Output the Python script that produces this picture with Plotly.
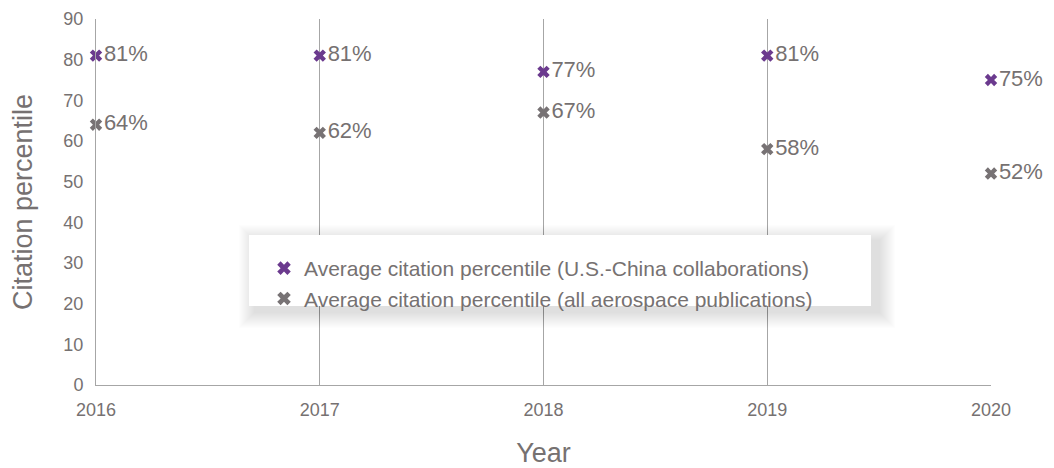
import plotly.graph_objects as go

years = [2016, 2017, 2018, 2019, 2020]
us_china = [81, 81, 77, 81, 75]
all_aero = [64, 62, 67, 58, 52]
series_names = [
    "Average citation percentile (U.S.-China collaborations)",
    "Average citation percentile (all aerospace publications)",
]

PURPLE = "#6b3a8e"
GRAY_MARK = "#777274"
TEXT = "#767171"
LINE = "#a6a6a6"
FONT = "Liberation Sans, Arial, sans-serif"

W, H = 1054, 468
L, R, T, B = 96, 63, 19, 83
pw, ph = W - L - R, H - T - B


def px_x(x):
    return (x - L) / pw


def px_y(y):
    return (H - B - y) / ph


fig = go.Figure()
for vals, name, color in [(us_china, series_names[0], PURPLE),
                          (all_aero, series_names[1], GRAY_MARK)]:
    fig.add_trace(go.Scatter(
        x=years, y=vals, name=name, mode="markers+text",
        marker=dict(symbol="x", size=11, color=color, line=dict(width=0)),
        text=[f"{v}%" for v in vals], textposition="middle right",
        textfont=dict(size=22, color=TEXT, family=FONT),
        cliponaxis=False,
    ))

# legend panel with soft drop shadow
bx0, bx1, by0, by1 = 249, 871, 235, 306
shapes = []
for i in range(16, 0, -1):
    shapes.append(dict(
        type="rect", xref="paper", yref="paper", layer="above",
        x0=px_x(bx0 - i + 6), x1=px_x(bx1 + i + 8),
        y0=px_y(by1 + i + 6), y1=px_y(by0 - i + 6),
        line=dict(width=0), fillcolor="rgba(0,0,0,0.009)",
    ))
shapes.append(dict(
    type="rect", xref="paper", yref="paper", layer="above",
    x0=px_x(bx0), x1=px_x(bx1), y0=px_y(by1), y1=px_y(by0),
    line=dict(width=0), fillcolor="white",
))

fig.update_layout(
    width=W, height=H,
    margin=dict(l=L, r=R, t=T, b=B, autoexpand=False),
    paper_bgcolor="white", plot_bgcolor="white",
    font=dict(family=FONT, color=TEXT, size=18),
    shapes=shapes,
    showlegend=True,
    legend=dict(
        x=px_x(264), y=px_y(248), xanchor="left", yanchor="top",
        bgcolor="rgba(0,0,0,0)", borderwidth=0,
        font=dict(size=21, color=TEXT, family=FONT),
        itemsizing="constant", tracegroupgap=0, itemwidth=30,
    ),
    xaxis=dict(
        range=[2016, 2020], tickvals=years, ticktext=[str(y) for y in years],
        showgrid=True, gridcolor=LINE, gridwidth=1,
        showline=True, linecolor=LINE, linewidth=1,
        ticks="", zeroline=False, ticklabelstandoff=8, automargin=False,
        tickfont=dict(size=18, color=TEXT),
        title=dict(text="Year", font=dict(size=27, color=TEXT), standoff=27),
    ),
    yaxis=dict(
        range=[0, 90], dtick=10, showgrid=False,
        showline=True, linecolor=LINE, linewidth=1,
        ticks="", zeroline=False, ticklabelstandoff=8, automargin=False,
        tickfont=dict(size=18, color=TEXT),
        title=dict(text="Citation percentile", font=dict(size=27, color=TEXT), standoff=22),
    ),
)

fig.write_html("out.html")
